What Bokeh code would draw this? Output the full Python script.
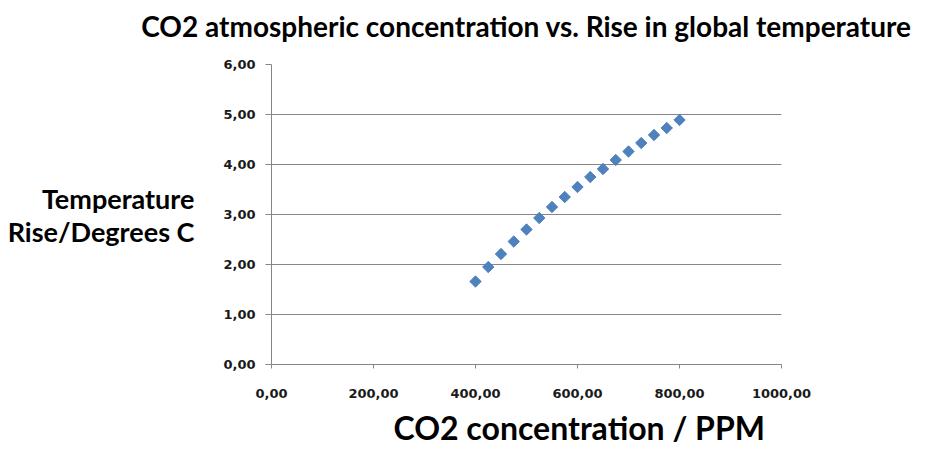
from math import pi
from bokeh.plotting import figure
from bokeh.models import Range1d, FixedTicker, LinearAxis, Title
from bokeh.embed import file_html
from bokeh.resources import INLINE

# ---- data ----
co2_ppm = [400, 425, 450, 475, 500, 525, 550, 575, 600, 625, 650, 675, 700, 725, 750, 775, 800]
temp_rise = [1.66, 1.95, 2.21, 2.46, 2.70, 2.93, 3.15, 3.35, 3.55, 3.75, 3.91, 4.09, 4.26, 4.43, 4.59, 4.73, 4.89]

x_ticks = [0, 200, 400, 600, 800, 1000]
x_tick_labels = ["0,00", "200,00", "400,00", "600,00", "800,00", "1000,00"]
y_ticks = [0, 1, 2, 3, 4, 5, 6]
y_tick_labels = ["0,00", "1,00", "2,00", "3,00", "4,00", "5,00", "6,00"]

title_text = "CO2 atmospheric concentration vs. Rise in global temperature"
x_title = "CO2 concentration / PPM"
y_title_lines = ["Temperature", "Rise/Degrees C"]

GRID = "#868686"
BLUE = "#4F81BD"
TITLE_FONT = "Lato"
TICK_FONT = "DejaVu Sans"

W, H = 932, 456
FRAME_L, FRAME_R, FRAME_T, FRAME_B = 271, 781, 64, 364

p = figure(width=W, height=H, output_backend="svg", toolbar_location=None,
           x_range=Range1d(0, 1000), y_range=Range1d(0, 6),
           min_border_left=FRAME_L, min_border_right=W - FRAME_R,
           min_border_top=FRAME_T, min_border_bottom=H - FRAME_B)
p.outline_line_color = None
p.background_fill_color = "white"
p.border_fill_color = "white"

p.scatter(co2_ppm, temp_rise, marker="square", size=8, angle=pi / 4,
          fill_color=BLUE, line_color=BLUE)

# main axes
p.xaxis.ticker = FixedTicker(ticks=x_ticks)
p.xaxis.major_label_overrides = dict(zip(x_ticks, x_tick_labels))
p.yaxis.ticker = FixedTicker(ticks=y_ticks)
p.yaxis.major_label_overrides = dict(zip(y_ticks, y_tick_labels))
for ax in (p.xaxis, p.yaxis):
    ax.axis_line_color = GRID
    ax.major_tick_line_color = GRID
    ax.minor_tick_line_color = None
    ax.major_tick_in = 0
    ax.major_label_text_font = TICK_FONT
    ax.major_label_text_font_style = "bold"
    ax.major_label_text_font_size = "13px"
    ax.major_label_text_color = "#1a1a1a"
    ax.axis_label_text_font = TITLE_FONT
    ax.axis_label_text_font_style = "bold"
    ax.axis_label_text_color = "black"
p.xaxis.major_tick_out = 4
p.xaxis.major_label_standoff = 20
p.yaxis.major_tick_out = 6
p.yaxis.major_label_standoff = 10

# y axis title (horizontal, two lines)
p.yaxis.axis_label = "\n".join(y_title_lines)
p.yaxis.axis_label_orientation = "horizontal"
p.yaxis.axis_label_text_font_size = "27px"
p.yaxis.axis_label_text_line_height = 1.0
p.yaxis.axis_label_standoff = 26

p.xgrid.grid_line_color = None
p.ygrid.ticker = FixedTicker(ticks=y_ticks)
p.ygrid.grid_line_color = GRID
p.ygrid.grid_line_width = 1

# x title: a Title in the panel below the x axis, shifted right like the reference
p.add_layout(Title(text=x_title, align="left", offset=393 - FRAME_L, standoff=11,
                   text_font=TITLE_FONT, text_font_style="bold",
                   text_font_size="32px", text_color="black"), "below")

# chart title as the label of a bare axis above the frame
title_axis = LinearAxis(ticker=FixedTicker(ticks=[]), axis_label=title_text,
                        axis_line_color=None, major_tick_line_color=None,
                        minor_tick_line_color=None, major_tick_out=0, major_tick_in=0,
                        minor_tick_out=0, minor_tick_in=0, major_label_standoff=0,
                        axis_label_standoff=22, axis_label_text_font=TITLE_FONT,
                        axis_label_text_font_style="bold", axis_label_text_font_size="28px",
                        axis_label_text_color="black")
p.add_layout(title_axis, "above")

open("out.html", "w").write(file_html(p, INLINE))
